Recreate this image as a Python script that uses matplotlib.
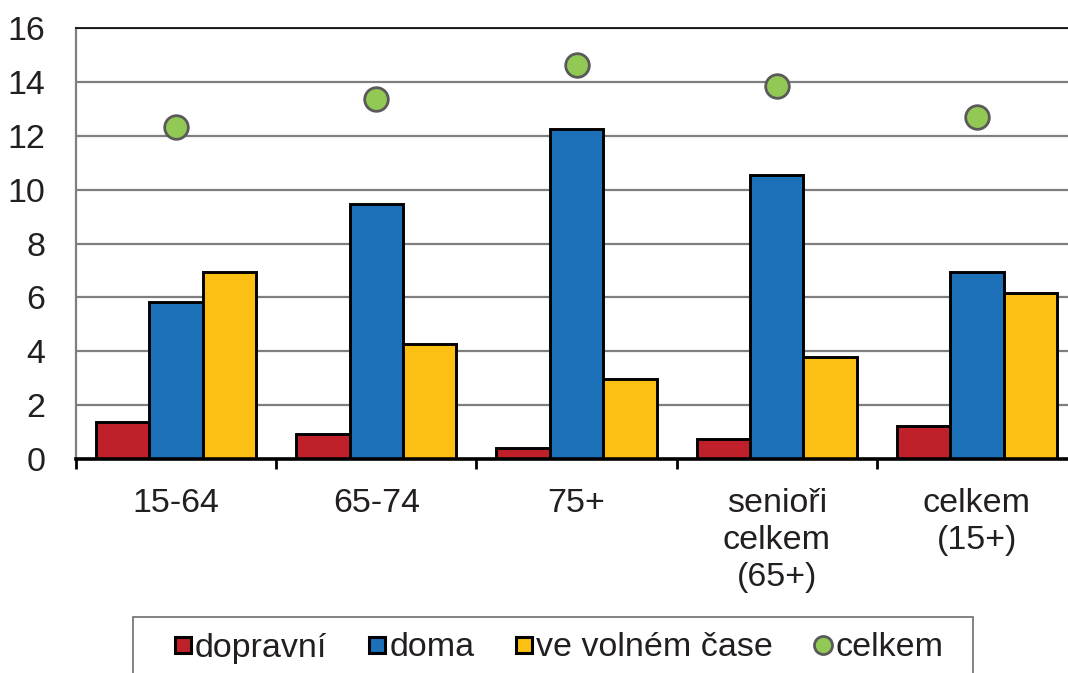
import numpy as np
import matplotlib
matplotlib.use("Agg")
import matplotlib.pyplot as plt
from matplotlib.lines import Line2D
from matplotlib.patches import Rectangle

plt.rcParams["font.family"] = ["Liberation Sans", "DejaVu Sans"]

categories = ["15-64", "65-74", "75+", "senioři\ncelkem\n(65+)", "celkem\n(15+)"]
dopravni = [1.37, 0.93, 0.41, 0.74, 1.22]
doma = [5.83, 9.47, 12.25, 10.54, 6.94]
volny_cas = [6.94, 4.27, 2.97, 3.79, 6.16]
celkem = [12.32, 13.36, 14.62, 13.85, 12.69]

c_red = "#C0202A"
c_blue = "#1B70B8"
c_yellow = "#FCC012"
c_green = "#92C954"
c_edge = "#5A5A5A"

fig = plt.figure(figsize=(10.68, 6.73), dpi=100)
ax = fig.add_axes([76 / 1068, 1 - 459 / 673, 1001 / 1068, 431 / 673])

x = np.arange(len(categories))
w = 0.8 / 3
ax.bar(x - w, dopravni, w, color=c_red, edgecolor="black", linewidth=2.1, zorder=3)
ax.bar(x, doma, w, color=c_blue, edgecolor="black", linewidth=2.1, zorder=3)
ax.bar(x + w, volny_cas, w, color=c_yellow, edgecolor="black", linewidth=2.1, zorder=3)
ax.plot(x, celkem, "o", markersize=17, markerfacecolor=c_green,
        markeredgecolor=c_edge, markeredgewidth=2, zorder=4, linestyle="none")

ax.set_xlim(-0.5, len(categories) - 0.5)
ax.set_ylim(0, 16)
ax.set_yticks(range(0, 17, 2))
ax.yaxis.grid(True, color="#7F7F7F", linewidth=1.6, zorder=0)
ax.set_axisbelow(True)

ax.set_xticks(x)
ax.set_xticklabels(categories, linespacing=1.25)
ax.set_xticks(np.arange(-0.5, len(categories), 1), minor=True)
ax.tick_params(axis="x", which="major", length=0, pad=21, labelsize=24.5, colors="#231F20")
ax.tick_params(axis="x", which="minor", length=7, width=2, direction="out", color="black")
ax.tick_params(axis="y", length=0, pad=22, labelsize=24.5, colors="#231F20")

ax.spines["right"].set_visible(False)
ax.spines["top"].set_color("black")
ax.spines["top"].set_linewidth(1.2)
ax.spines["left"].set_color("#7F7F7F")
ax.spines["left"].set_linewidth(1.6)
ax.spines["bottom"].set_color("black")
ax.spines["bottom"].set_linewidth(2.6)
ax.spines["bottom"].set_zorder(5)

handles = [
    Line2D([], [], marker="s", linestyle="none", markersize=11, markerfacecolor=c_red,
           markeredgecolor="black", markeredgewidth=2.2),
    Line2D([], [], marker="s", linestyle="none", markersize=11, markerfacecolor=c_blue,
           markeredgecolor="black", markeredgewidth=2.2),
    Line2D([], [], marker="s", linestyle="none", markersize=11, markerfacecolor=c_yellow,
           markeredgecolor="black", markeredgewidth=2.2),
    Line2D([], [], marker="o", linestyle="none", markersize=13, markerfacecolor=c_green,
           markeredgecolor=c_edge, markeredgewidth=2),
]
labels = ["dopravní", "doma", "ve volném čase", "celkem"]
leg = fig.legend(handles, labels, loc="center left", bbox_to_anchor=(174 / 1068, 1 - 648 / 673),
                 ncol=4, fontsize=24.5, frameon=False, handlelength=0.5,
                 handletextpad=0.12, columnspacing=1.2, borderpad=0, borderaxespad=0)
for t in leg.get_texts():
    t.set_color("#231F20")

# legend box runs off the bottom edge like in the source
fig.patches.append(Rectangle((133 / 1068, -0.05), (973 - 133) / 1068, 0.05 + (673 - 617) / 673,
                             transform=fig.transFigure, fill=False,
                             edgecolor="#6D6E71", linewidth=1.2))

fig.savefig("out.png", dpi=100)
